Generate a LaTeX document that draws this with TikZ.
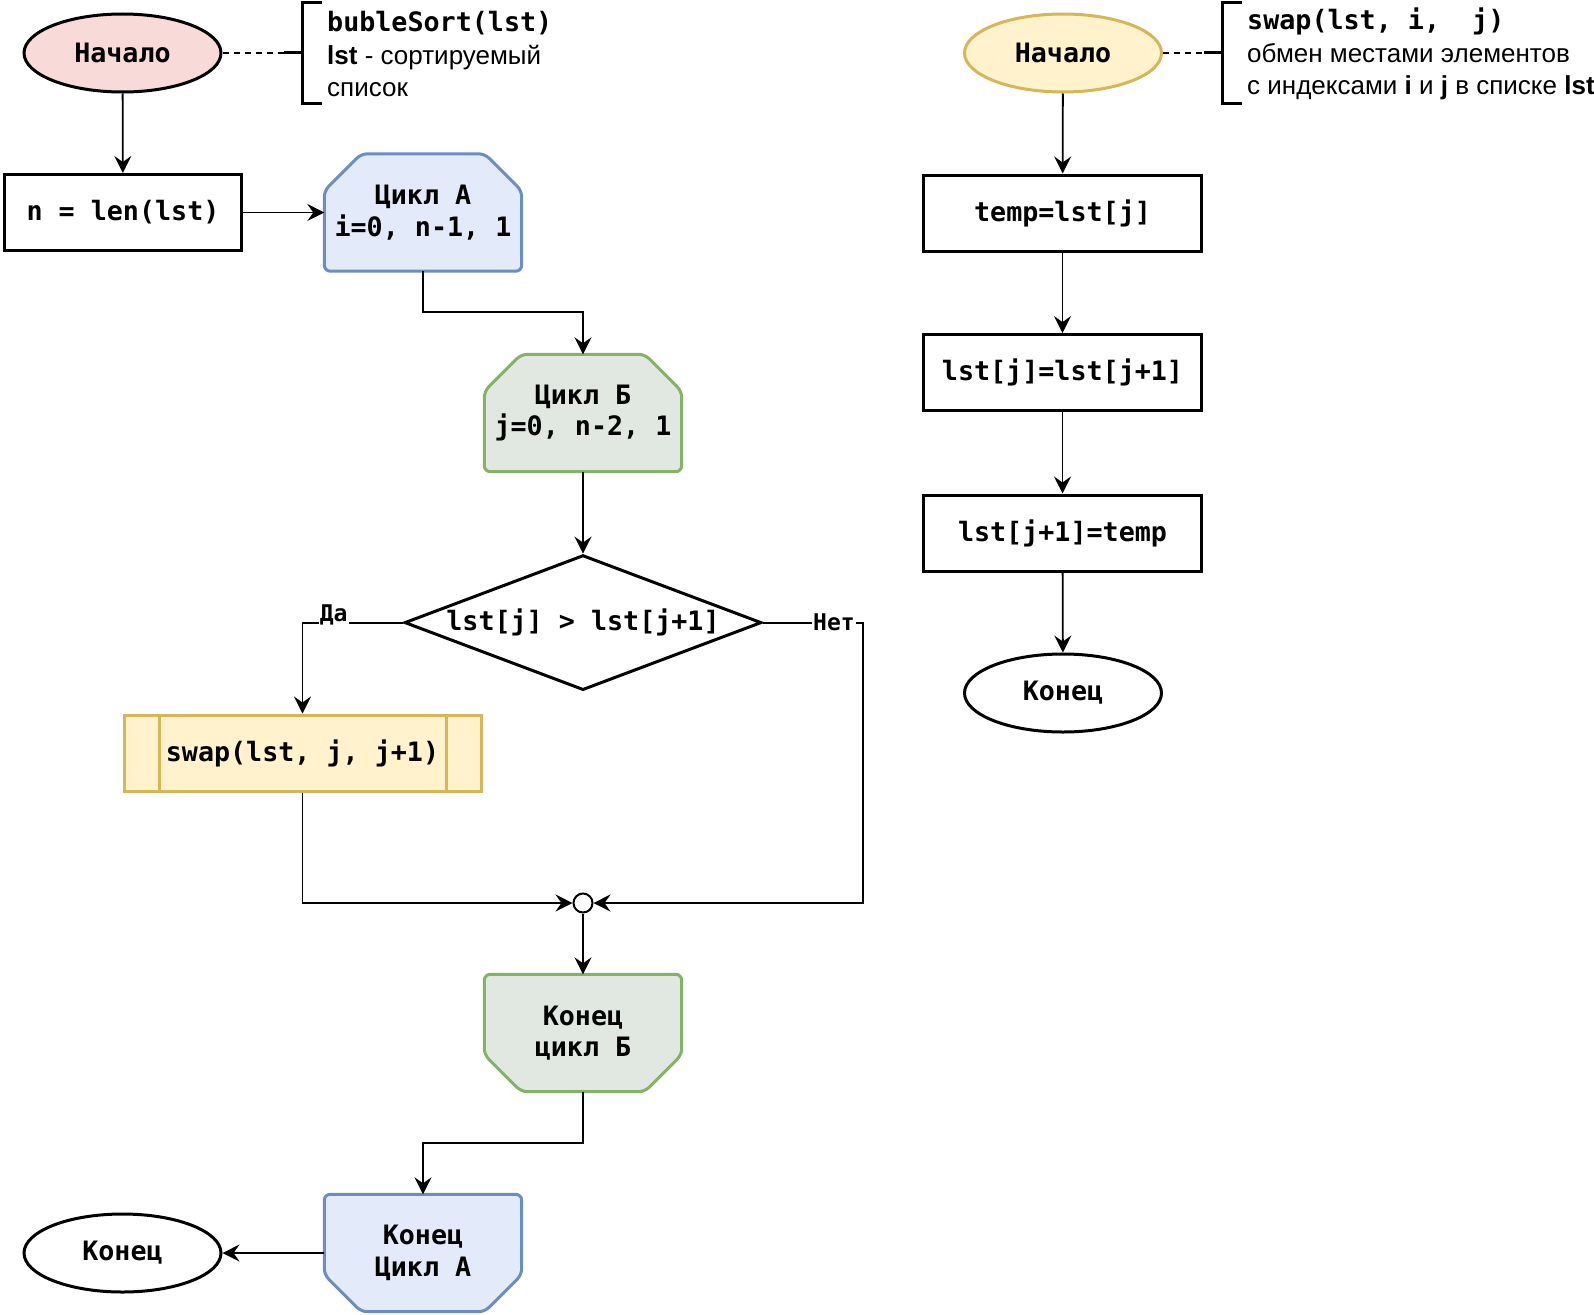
\documentclass[tikz,border=0pt]{standalone}
\usepackage{fontspec}
\setmainfont{Liberation Sans}
\setmonofont{DejaVu Sans Mono}
\usetikzlibrary{shapes.geometric,arrows.meta,backgrounds}

\definecolor{startRed}{HTML}{F8DAD8}
\definecolor{blueFill}{HTML}{E3EBFA}
\definecolor{blueLine}{HTML}{6C8EBF}
\definecolor{greenFill}{HTML}{E1E7E1}
\definecolor{greenLine}{HTML}{82B366}
\definecolor{yellowFill}{HTML}{FFF2CC}
\definecolor{yellowLine}{HTML}{D6B656}

\tikzset{
  code/.style={font=\fontsize{26.7}{31.5}\selectfont\ttfamily\bfseries, align=center, inner sep=0pt},
  term/.style={code, ellipse, draw, line width=3pt, minimum width=197pt, minimum height=78pt},
  proc/.style={code, rectangle, draw, line width=3pt, minimum height=76pt},
  loopbox/.style={code, minimum width=197pt, minimum height=117pt},
  blueloop/.style={draw=blueLine, fill=blueFill, line width=3pt, rounded corners=6pt},
  greenloop/.style={draw=greenLine, fill=greenFill, line width=3pt, rounded corners=6pt},
  lbl/.style={font=\fontsize{23}{25}\selectfont\ttfamily\bfseries, fill=white, inner sep=1pt},
  note/.style={font=\fontsize{26}{32.5}\selectfont, align=left, inner sep=0pt, anchor=west},
  line/.style={line width=1.8pt, -{Stealth[length=17pt,width=17pt,inset=6pt]}},
  bracket/.style={line width=3pt},
  dots/.style={line width=2pt, dash pattern=on 6pt off 5pt}
}

\begin{document}
\begin{tikzpicture}[x=1pt, y=-1pt]
  \useasboundingbox (0,0) rectangle (1594,1314);

  % bubleSort
  \node[term, fill=startRed] (start1) at (122.5,53) {Начало};
  \node[proc, minimum width=237pt] (len) at (123,212.5) {n = len(lst)};
  \node[loopbox] (cycA) at (423,212.5) {Цикл А\\i=0, n-1, 1};
  \node[loopbox] (cycB) at (583,413) {Цикл Б\\j=0, n-2, 1};
  \node[code, diamond, draw, line width=3pt, aspect=2.6, minimum width=357pt, minimum height=135pt]
    (cond) at (583,622.6) {lst[j] > lst[j+1]};
  \node[proc, draw=yellowLine, fill=yellowFill, minimum width=357pt] (swp) at (302.5,753)
    {swap(lst, j, j+1)};
  \node[circle, draw, fill=white, line width=2pt, minimum size=19pt, inner sep=0pt] (junc) at (583,903) {};
  \node[loopbox] (endB) at (583,1033) {Конец\\цикл Б};
  \node[loopbox] (endA) at (423,1253) {Конец\\Цикл А};
  \node[term] (stop1) at (122.5,1253) {Конец};

  \begin{scope}[on background layer]
    \draw[blueloop] ([yshift=-37pt]cycA.north west) -- ([xshift=37pt]cycA.north west)
      -- ([xshift=-37pt]cycA.north east) -- ([yshift=-37pt]cycA.north east)
      -- (cycA.south east) -- (cycA.south west) -- cycle;
    \draw[greenloop] ([yshift=-37pt]cycB.north west) -- ([xshift=37pt]cycB.north west)
      -- ([xshift=-37pt]cycB.north east) -- ([yshift=-37pt]cycB.north east)
      -- (cycB.south east) -- (cycB.south west) -- cycle;
    \draw[greenloop] (endB.north west) -- (endB.north east) -- ([yshift=37pt]endB.south east)
      -- ([xshift=-37pt]endB.south east) -- ([xshift=37pt]endB.south west)
      -- ([yshift=37pt]endB.south west) -- cycle;
    \draw[blueloop] (endA.north west) -- (endA.north east) -- ([yshift=37pt]endA.south east)
      -- ([xshift=-37pt]endA.south east) -- ([xshift=37pt]endA.south west)
      -- ([yshift=37pt]endA.south west) -- cycle;
  \end{scope}
  \draw[yellowLine, line width=3pt] ([xshift=36.5pt]swp.north west) -- ([xshift=36.5pt]swp.south west);
  \draw[yellowLine, line width=3pt] ([xshift=-36.5pt]swp.north east) -- ([xshift=-36.5pt]swp.south east);

  \draw[line] (start1) -- (len);
  \draw[line] (len) -- (cycA);
  \draw[line] (cycA.south) -- ++(0,40.5) -| (cycB.north);
  \draw[line] (cycB) -- (cond);
  \draw[line] (cond.west) -| node[pos=0.345, lbl, yshift=8pt] {Да} (swp.north);
  \draw[line] (cond.east) -- node[pos=0.71, lbl] {Нет} ++(100,0) |- (junc);
  \draw[line] (swp.south) |- (junc);
  \draw[line] (junc) -- (endB);
  \draw[line] (endB.south) -- ++(0,51) -| (endA.north);
  \draw[line] (endA) -- (stop1);

  % note 1
  \coordinate (br1) at (302,53);
  \draw[bracket] (322,3) -| (302,103) -- (322,103);
  \draw[bracket] (br1) -- ++(-18,0) coordinate (br1s);
  \draw[dots] (start1.east) -- (br1s);
  \node[note] (info1) at (327,54)
    {{\fontsize{26.7}{32.5}\selectfont\ttfamily\bfseries bubleSort(lst)}\\\textbf{lst} - сортируемый\\список};

  % swap
  \node[term, draw=yellowLine, fill=yellowFill] (start2) at (1063,53) {Начало};
  \node[proc, minimum width=278pt] (t1) at (1062.5,213) {temp=lst[j]};
  \node[proc, minimum width=278pt] (t2) at (1062.5,372.6) {lst[j]=lst[j+1]};
  \node[proc, minimum width=278pt] (t3) at (1062.5,533) {lst[j+1]=temp};
  \node[term] (stop2) at (1063,693) {Конец};

  \draw[line] (start2) -- (t1);
  \draw[line] (t1) -- (t2);
  \draw[line] (t2) -- (t3);
  \draw[line] (t3) -- (stop2);

  % note 2
  \coordinate (br2) at (1222,53);
  \draw[bracket] (1242,3) -| (1222,103) -- (1242,103);
  \draw[bracket] (br2) -- ++(-18,0) coordinate (br2s);
  \draw[dots] (start2.east) -- (br2s);
  \node[note] (info2) at (1247,54)
    {{\fontsize{26.7}{32.5}\selectfont\ttfamily\bfseries swap(lst, i,\ \ j)}\\обмен местами элементов\\с индексами \textbf{i} и \textbf{j} в списке \textbf{lst}};
\end{tikzpicture}
\end{document}
